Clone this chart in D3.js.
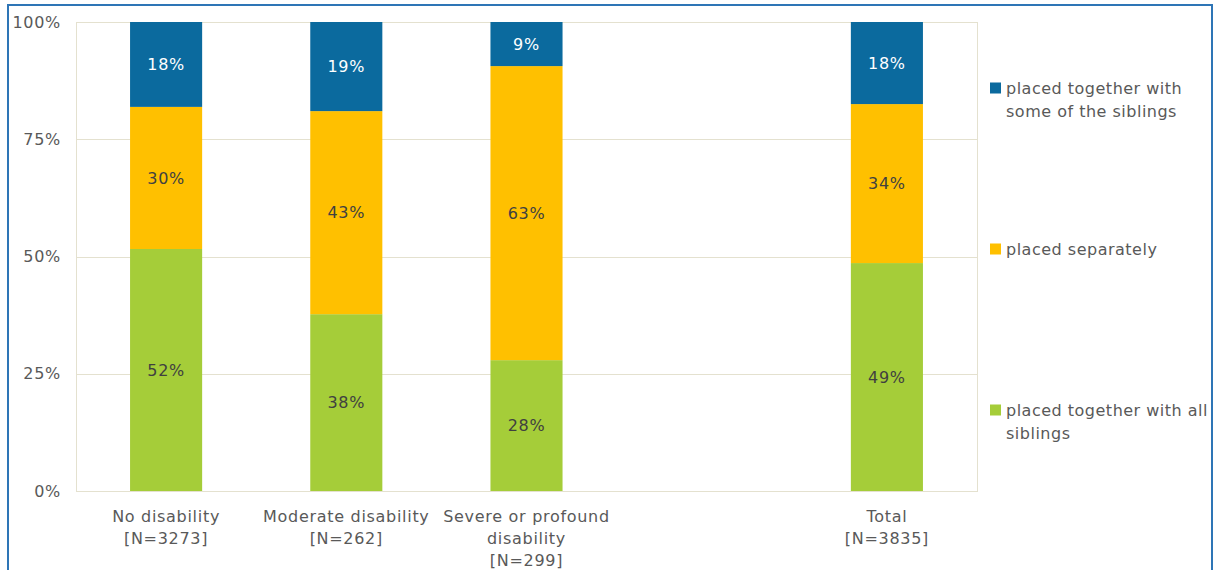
<!DOCTYPE html>
<html>
<head>
<meta charset="utf-8">
<script src="https://cdn.jsdelivr.net/npm/d3@7"></script>
<style>
  html, body { margin: 0; padding: 0; background: #fff; }
  svg { display: block; font-family: "DejaVu Sans", sans-serif; }
  .lbl { font-size: 16px; letter-spacing: 0.7px; }
  .leg { font-size: 16px; letter-spacing: 0.5px; }
</style>
</head>
<body>
<svg id="chart" width="1215" height="570"></svg>
<script>
// Category slots along the x axis (the fourth slot is left empty)
const categories = ["No disability", "Moderate disability", "Severe or profound disability", "", "Total"];
const categoryLines = [
  ["No disability", "[N=3273]"],
  ["Moderate disability", "[N=262]"],
  ["Severe or profound", "disability", "[N=299]"],
  [],
  ["Total", "[N=3835]"]
];

// Shares in percent, per category
const togetherAll  = [51.6, 37.7, 27.9, null, 48.6];
const separately   = [30.3, 43.3, 62.7, null, 33.9];
const togetherSome = [18.1, 19.0,  9.4, null, 17.5];

const seriesNames  = ["placed together with all siblings", "placed separately", "placed together with some of the siblings"];
const seriesColors = ["#A5CD39", "#FFC000", "#0B6A9E"];
const labelColors  = ["#404040", "#404040", "#FFFFFF"];
const legendLines  = [["placed together with all", "siblings"], ["placed separately"], ["placed together with", "some of the siblings"]];

const yTicks = [0, 25, 50, 75, 100];

const svg = d3.select("#chart");

// Outer frame
svg.append("rect")
  .attr("x", 8).attr("y", 5)
  .attr("width", 1204).attr("height", 580)
  .attr("fill", "none").attr("stroke", "#2E75B6").attr("stroke-width", 2);

const plot = { left: 76, right: 977, top: 22, bottom: 491 };

const x = d3.scaleBand()
  .domain(d3.range(categories.length))
  .range([plot.left, plot.right])
  .paddingInner(0.6).paddingOuter(0.3);

const y = d3.scaleLinear().domain([0, 100]).range([plot.bottom, plot.top]);

// Gridlines
svg.append("g")
  .selectAll("line")
  .data(yTicks)
  .join("line")
  .attr("x1", plot.left).attr("x2", plot.right)
  .attr("y1", d => Math.round(y(d)) + 0.5).attr("y2", d => Math.round(y(d)) + 0.5)
  .attr("stroke", "#E4E1CF").attr("stroke-width", 1);

// Plot area border
svg.append("rect")
  .attr("x", plot.left + 0.5).attr("y", plot.top + 0.5)
  .attr("width", plot.right - plot.left).attr("height", plot.bottom - plot.top)
  .attr("fill", "none").attr("stroke", "#E4E1CF");

// Y axis labels
const yAxis = d3.axisLeft(y).tickValues(yTicks).tickFormat(d => d + "%").tickSize(0).tickPadding(15);
const gy = svg.append("g").attr("transform", `translate(${plot.left},0)`).call(yAxis);
gy.select(".domain").remove();
gy.selectAll("text").attr("fill", "#595959").attr("class", "lbl").style("font-family", "DejaVu Sans, sans-serif");

// Stacked data
const rows = categories.map((c, i) => ({
  idx: i,
  s0: togetherAll[i], s1: separately[i], s2: togetherSome[i]
})).filter(r => r.s0 !== null);

const stack = d3.stack().keys(["s0", "s1", "s2"]);
const layers = stack(rows);

const gBars = svg.append("g");
layers.forEach((layer, k) => {
  const g = gBars.append("g");
  g.selectAll("rect")
    .data(layer)
    .join("rect")
    .attr("x", d => x(d.data.idx))
    .attr("width", x.bandwidth())
    .attr("y", d => y(d[1]))
    .attr("height", d => y(d[0]) - y(d[1]))
    .attr("fill", seriesColors[k]);
  g.selectAll("text")
    .data(layer)
    .join("text")
    .attr("class", "lbl")
    .attr("x", d => x(d.data.idx) + x.bandwidth() / 2)
    .attr("y", d => (y(d[0]) + y(d[1])) / 2)
    .attr("dy", "0.35em")
    .attr("text-anchor", "middle")
    .attr("fill", labelColors[k])
    .text(d => Math.round(d[1] - d[0]) + "%");
});

// Category labels
const gx = svg.append("g");
categoryLines.forEach((lines, i) => {
  const cx = x(i) + x.bandwidth() / 2;
  const t = gx.append("text")
    .attr("class", "lbl")
    .attr("text-anchor", "middle")
    .attr("fill", "#595959");
  lines.forEach((ln, j) => {
    t.append("tspan").attr("x", cx).attr("y", 522 + j * 22).text(ln);
  });
});

// Legend (top to bottom: some, separately, all)
const legendY = [88, 249, 410];
const order = [2, 1, 0];
const gl = svg.append("g");
order.forEach((k, n) => {
  const cy = legendY[n];
  gl.append("rect")
    .attr("x", 990).attr("y", cy - 5.5)
    .attr("width", 11).attr("height", 11)
    .attr("fill", seriesColors[k]);
  const t = gl.append("text").attr("class", "leg").attr("fill", "#595959");
  legendLines[k].forEach((ln, j) => {
    t.append("tspan").attr("x", 1006).attr("y", cy + 6 + j * 23).text(ln);
  });
});
</script>
</body>
</html>
